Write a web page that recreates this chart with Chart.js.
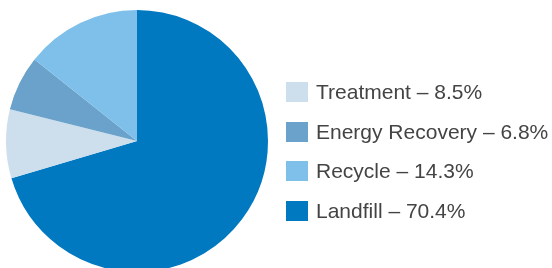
<!DOCTYPE html>
<html>
<head>
<meta charset="utf-8">
<script src="https://cdn.jsdelivr.net/npm/chart.js@4"></script>
<style>
  html, body { margin: 0; padding: 0; background: #fff; overflow: hidden; }
  #wrap { position: relative; width: 552px; height: 268px; overflow: hidden; }
  #box { position: absolute; left: 0; top: 0; width: 552px; height: 280px; }
  #legend { position: absolute; left: 286px; top: 0; font-family: "Liberation Sans", Arial, sans-serif; font-size: 21px; color: #444; }
  .item { position: absolute; left: 0; white-space: nowrap; height: 20px; }
  .sw { position: absolute; left: 0; top: 0; width: 22px; height: 20px; }
  .lbl { position: absolute; left: 30px; top: -2px; line-height: 24px; }
</style>
</head>
<body>
<div id="wrap">
  <div id="box"><canvas id="pie" width="552" height="280"></canvas></div>
  <div id="legend"></div>
</div>
<script>
// slices in drawing order (clockwise from 12 o'clock)
const categories = ['Landfill', 'Treatment', 'Energy Recovery', 'Recycle'];
const shares = [70.4, 8.5, 6.8, 14.3];
const colors = ['#0079c1', '#cddeed', '#6aa2cb', '#7ec0ea'];
// legend lists them in this order
const legendOrder = ['Treatment', 'Energy Recovery', 'Recycle', 'Landfill'];

let ctx = document.getElementById('pie').getContext('2d');
let chart = new Chart(ctx, {
  type: 'pie',
  data: {
    labels: categories,
    datasets: [{
      data: shares,
      backgroundColor: colors,
      borderWidth: 0
    }]
  },
  options: {
    responsive: false,
    animation: false,
    layout: { padding: { left: 6, right: 284, top: 10, bottom: 8 } },
    plugins: {
      legend: { display: false },
      tooltip: { enabled: false }
    }
  }
});

// legend built from the same arrays
let legend = document.getElementById('legend');
legendOrder.forEach(function (name, i) {
  let k = categories.indexOf(name);
  let row = document.createElement('div');
  row.className = 'item';
  row.style.top = (82 + i * 39.7) + 'px';
  row.innerHTML = '<span class="sw" style="background:' + colors[k] + '"></span>' +
    '<span class="lbl">' + name + ' \u2013 ' + shares[k] + '%</span>';
  legend.appendChild(row);
});
</script>
</body>
</html>
